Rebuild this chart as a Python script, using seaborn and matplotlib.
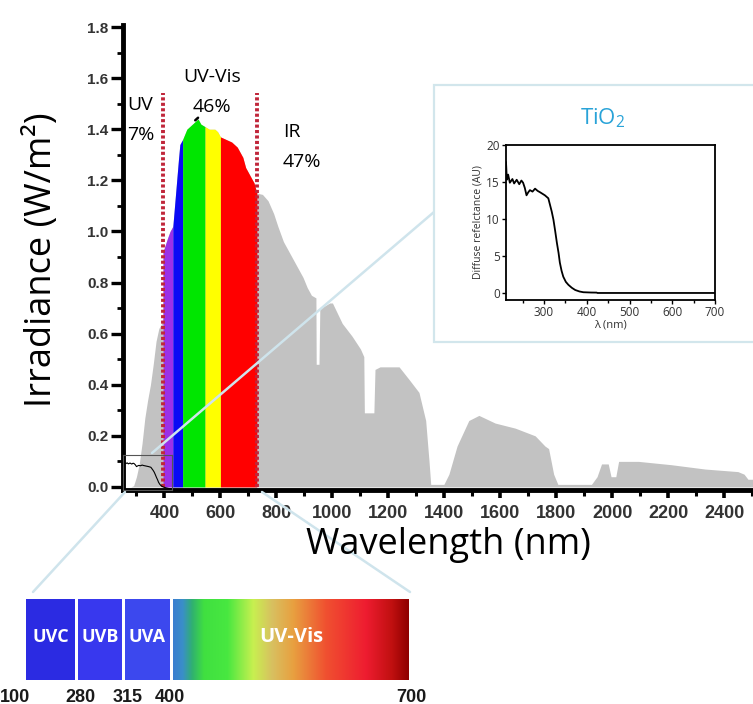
import numpy as np
import matplotlib
matplotlib.use("Agg")
import matplotlib.pyplot as plt
import seaborn as sns
from matplotlib.patches import Rectangle
from matplotlib.lines import Line2D
from matplotlib.colors import LinearSegmentedColormap
from matplotlib.ticker import MultipleLocator, FormatStrFormatter

# solar spectrum (AM1.5-like)
spec_wl = [280, 290, 300, 310, 320, 330, 340, 350, 360, 370, 380, 390, 394,
           395, 410, 420, 430, 440, 450, 455, 465, 480, 490, 500, 510, 520,
           530, 545, 560, 580, 590, 600, 620, 640, 660, 680, 690, 700, 710,
           720, 730, 750, 770, 790, 805, 825, 840, 860, 880, 895, 910, 925,
           941, 942, 952, 955, 975, 990, 1000, 1035, 1070, 1100, 1112, 1114,
           1148, 1152, 1170, 1238, 1274, 1309, 1333, 1345, 1351, 1398, 1416,
           1445, 1487, 1523, 1581, 1653, 1724, 1759, 1772, 1790, 1805, 1925,
           1945, 1961, 1985, 1995, 2012, 2022, 2093, 2210, 2331, 2448, 2470,
           2484, 2502]
spec_irr = [0.0, 0.005, 0.04, 0.09, 0.17, 0.27, 0.34, 0.40, 0.48, 0.57, 0.62, 0.64, 0.66,
            0.92, 0.97, 1.00, 1.02, 1.15, 1.28, 1.34, 1.36, 1.40, 1.41, 1.42, 1.43, 1.44,
            1.42, 1.41, 1.40, 1.40, 1.39, 1.37, 1.36, 1.35, 1.33, 1.29, 1.25, 1.23, 1.21,
            1.19, 1.15, 1.145, 1.12, 1.07, 1.02, 0.96, 0.93, 0.89, 0.85, 0.82, 0.78, 0.75,
            0.74, 0.48, 0.48, 0.70, 0.71, 0.72, 0.72, 0.64, 0.59, 0.54, 0.51, 0.29,
            0.29, 0.46, 0.47, 0.47, 0.42, 0.37, 0.26, 0.10, 0.01, 0.01, 0.05,
            0.16, 0.26, 0.28, 0.25, 0.23, 0.20, 0.16, 0.15, 0.05, 0.01, 0.01,
            0.04, 0.09, 0.09, 0.04, 0.04, 0.10, 0.10, 0.087, 0.07, 0.06, 0.05,
            0.03, 0.03]

# coloured bands of the visible part
band_edges = [395, 430, 465, 545, 600, 730]
band_colors = ["#9b30e8", "#0a0af5", "#00e600", "#ffff00", "#ff0000"]

# TiO2 diffuse reflectance
refl_wl = [211, 213, 216, 220, 226, 230, 236, 242, 247, 251, 255, 259, 263, 267,
           273, 279, 285, 291, 302, 310, 314, 318, 322, 326, 330, 334, 337, 341,
           345, 351, 357, 365, 373, 383, 392, 410, 423, 425, 500, 600, 700]
refl_val = [17.7, 15.3, 16.0, 14.9, 15.4, 14.8, 15.3, 14.7, 15.2, 14.9, 14.2, 13.2, 13.6, 13.9,
            13.7, 14.1, 13.8, 13.6, 13.2, 12.8, 11.9, 11.0, 9.9, 8.4, 6.8, 5.4, 4.1, 3.0,
            2.2, 1.5, 1.1, 0.7, 0.4, 0.2, 0.1, 0.06, 0.05, 0.0, 0.0, 0.0, 0.0]

# spectrum bar at the bottom
uv_labels = ["UVC", "UVB", "UVA", "UV-Vis"]
uv_colors = ["#2b2be2", "#3838ee", "#3c48ee"]
edge_labels = ["100", "280", "315", "400", "700"]
vis_stops = [(0.0, "#3a7fd0"), (0.04, "#3a8fc8"), (0.08, "#30b070"), (0.13, "#40e040"),
             (0.23, "#48e840"), (0.34, "#c8f050"), (0.42, "#d8c060"), (0.51, "#e8a040"),
             (0.65, "#f05030"), (0.82, "#ee1c30"), (0.93, "#c01010"), (1.0, "#8e0000")]

W, H = 753, 704


def fx(px):
    return px / W


def fy(py):
    return 1 - py / H


sns.set_theme(style="ticks")
plt.rcParams["font.family"] = ["Open Sans", "DejaVu Sans"]
plt.rcParams["mathtext.fontset"] = "custom"
plt.rcParams["mathtext.rm"] = "Open Sans"

fig = plt.figure(figsize=(W / 100, H / 100), dpi=100)
fig.patch.set_facecolor("white")

# main irradiance plot
wl = np.array(spec_wl, dtype=float)
irr = np.array(spec_irr)
ax = fig.add_axes([fx(123), fy(490), fx(753) - fx(123), fy(25) - fy(490)])
ax.fill_between(wl, irr, color="#c2c2c2", lw=0)
for lo, hi, c in zip(band_edges[:-1], band_edges[1:], band_colors):
    m = (wl >= lo) & (wl <= hi)
    ax.fill_between(wl[m], irr[m], color=c, lw=0)
peak = (wl >= 505) & (wl <= 528)
ax.plot(wl[peak], irr[peak] + 0.005, color="black", lw=1.8)
ax.vlines([band_edges[0], band_edges[-1]], 0, 1.54, colors="#c0263a",
          linestyles=(0, (0.8, 0.6)), lw=2.8)

ax.set_xlim(252, 2502)
ax.set_ylim(-0.012, 1.808)
ax.xaxis.set_major_locator(MultipleLocator(200))
ax.xaxis.set_minor_locator(MultipleLocator(100))
ax.yaxis.set_major_locator(MultipleLocator(0.2))
ax.yaxis.set_minor_locator(MultipleLocator(0.1))
ax.yaxis.set_major_formatter(FormatStrFormatter("%.1f"))
ax.set_xticks(np.arange(400, 2401, 200))
sns.despine(ax=ax)
for s in ["left", "bottom"]:
    ax.spines[s].set_linewidth(3.5)
    ax.spines[s].set_color("black")
ax.tick_params(axis="y", which="major", direction="out", length=8.5, width=2.4, pad=2,
               labelsize=11, labelcolor="#333333", color="black")
ax.tick_params(axis="y", which="minor", direction="out", length=4.5, width=2.0, color="black")
ax.tick_params(axis="x", which="major", direction="out", length=6, width=2.6, pad=5,
               labelsize=13, labelcolor="#333333", color="black")
ax.tick_params(axis="x", which="minor", direction="out", length=4, width=2.2, color="black")
for lbl in ax.get_xticklabels() + ax.get_yticklabels():
    lbl.set_fontweight("bold")
    lbl.set_family("Liberation Sans")
ax.grid(False)

fig.text(fx(42), fy(260), "Irradiance (W/m²)", rotation=90, fontsize=26,
         ha="center", va="center", color="black")
fig.text(fx(448), fy(545), "Wavelength (nm)", fontsize=26,
         ha="center", va="center", color="black")

for txt, px, py, ha in [("UV", 127, 105, "left"), ("7%", 127, 135, "left"),
                        ("UV-Vis", 212, 77, "center"), ("46%", 212, 107, "center"),
                        ("IR", 283, 132, "left"), ("47%", 283, 162, "left")]:
    fig.text(fx(px), fy(py), txt, fontsize=14, ha=ha, va="center", color="black")

# small copy of the reflectance curve inside the UV region
ax_mini = fig.add_axes([fx(123), fy(490), fx(172) - fx(123), fy(455) - fy(490)], zorder=2)
ax_mini.set_facecolor("none")
sns.lineplot(x=refl_wl, y=refl_val, ax=ax_mini, color="black", linewidth=0.8,
             estimator=None, sort=False)
ax_mini.set_xlim(211, 385)
ax_mini.set_ylim(-0.5, 20)
ax_mini.set_xticks([])
ax_mini.set_yticks([])
ax_mini.set_xlabel("")
ax_mini.set_ylabel("")
for s in ax_mini.spines.values():
    s.set_linewidth(0.8)
    s.set_color("#555555")

# zoom lines
for (x0, y0), (x1, y1) in [((152, 453), (434, 212)), ((125, 492), (33, 592)),
                           ((262, 492), (410, 592))]:
    fig.add_artist(Line2D([fx(x0), fx(x1)], [fy(y0), fy(y1)], transform=fig.transFigure,
                          color="#cfe4ec", lw=1.8, zorder=1.5))

# inset frame
fig.add_artist(Rectangle((fx(434), fy(342)), fx(800) - fx(434), fy(85) - fy(342),
                         transform=fig.transFigure, facecolor="white",
                         edgecolor="#d2e6ec", lw=1.6, zorder=2.5))
fig.text(fx(603), fy(118), "TiO$_2$", fontsize=16, color="#29a3d8",
         ha="center", va="center", zorder=4)

ax_in = fig.add_axes([fx(506), fy(300), fx(715) - fx(506), fy(145) - fy(300)], zorder=3)
sns.lineplot(x=refl_wl, y=refl_val, ax=ax_in, color="black", linewidth=1.3,
             estimator=None, sort=False)
ax_in.set_xlim(211, 700)
ax_in.set_ylim(-0.95, 20)
ax_in.set_xticks([300, 400, 500, 600, 700])
ax_in.xaxis.set_minor_locator(MultipleLocator(100, offset=50))
ax_in.set_yticks([0, 5, 10, 15, 20])
ax_in.tick_params(which="major", direction="out", length=3, width=1, pad=1.5,
                  labelsize=8.5, labelcolor="#333333", color="black")
ax_in.tick_params(which="minor", direction="out", length=2, width=1, color="black")
for s in ax_in.spines.values():
    s.set_linewidth(1.3)
    s.set_color("black")
ax_in.set_xlabel("λ (nm)", fontsize=8, color="#333333", labelpad=0)
ax_in.set_ylabel("Diffuse refelctance (AU)", fontsize=7.5, color="#333333", labelpad=2)
ax_in.grid(False)

# UV / visible spectrum bar
ax_bar = fig.add_axes([fx(26), fy(680), fx(409) - fx(26), fy(599) - fy(680)])
ax_bar.set_xlim(0, 383)
ax_bar.set_ylim(0, 1)
ax_bar.axis("off")
seg_left = [0, 52, 99, 147]
seg_width = [49, 44, 45, 236]
ax_bar.barh(0.5, seg_width[:3], left=seg_left[:3], height=1, color=uv_colors, lw=0)
vis_cmap = LinearSegmentedColormap.from_list("vis", vis_stops)
ax_bar.imshow(np.linspace(0, 1, 512)[None, :], cmap=vis_cmap, aspect="auto",
              extent=(seg_left[3], seg_left[3] + seg_width[3], 0, 1))
ax_bar.set_xlim(0, 383)
ax_bar.set_ylim(0, 1)
for i, lab in enumerate(uv_labels):
    ax_bar.text(seg_left[i] + seg_width[i] / 2, 0.53, lab, color="white",
                fontsize=13 if i < 3 else 14.5, fontweight="bold",
                ha="center", va="center")

for lab, px in zip(edge_labels, [15, 80, 128, 170, 411]):
    fig.text(fx(px), fy(697), lab, fontsize=13, fontweight="bold", family="Liberation Sans",
             color="#1a1a1a", ha="center", va="center")

fig.savefig("out.png", dpi=100, facecolor="white")
